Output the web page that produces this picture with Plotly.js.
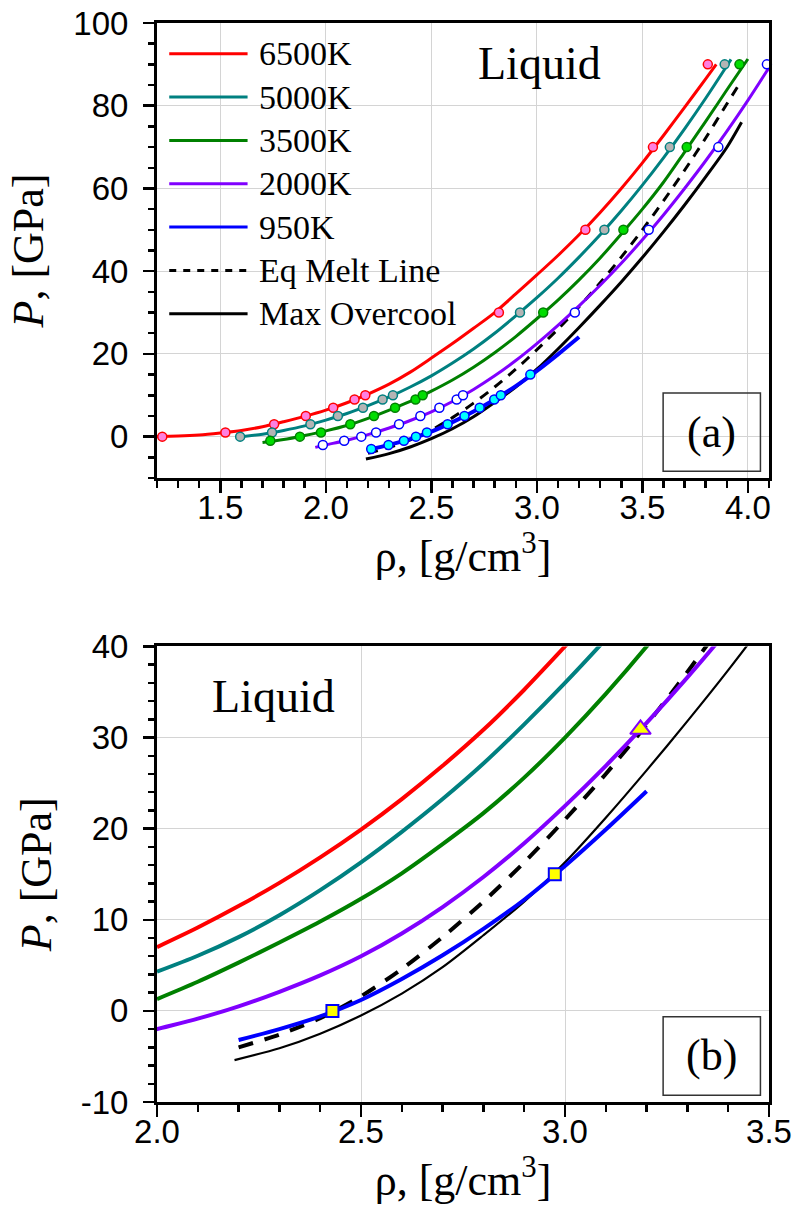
<!DOCTYPE html>
<html>
<head>
<meta charset="utf-8">
<script src="https://cdn.plot.ly/plotly-3.0.1.min.js"></script>
<style>
html,body{margin:0;padding:0;background:#fff;}
#chart{width:796px;height:1217px;}
</style>
</head>
<body>
<div id="chart"></div>
<script>
// ---------------- DATA ----------------
// Panel (a) fitted isotherms
const rhoA6500 = [1.20,1.30,1.40,1.50,1.60,1.70,1.80,1.90,2.00,2.10,2.20,2.30,2.40,2.50,2.60,2.70,2.80,2.90,3.00,3.10,3.20,3.30,3.40,3.50,3.60,3.70,3.80,3.85];
const PA6500   = [0.05,0.15,0.4,0.9,1.5,2.4,3.6,4.9,6.4,8.2,10.3,12.7,15.6,19.0,22.5,26.2,30.0,34.5,39.1,43.8,48.8,54.2,60.0,66.2,72.8,79.6,86.5,90.0];
const rhoA5000 = [1.58,1.60,1.70,1.80,1.90,2.00,2.10,2.20,2.30,2.40,2.50,2.60,2.70,2.80,2.90,3.00,3.10,3.20,3.30,3.40,3.50,3.60,3.70,3.80,3.90,3.92];
const PA5000   = [-0.1,0.0,0.6,1.5,2.6,4.0,5.6,7.5,9.6,12.0,14.7,17.8,21.2,25.0,29.2,33.6,38.3,43.4,48.8,54.6,60.8,67.4,74.4,81.8,89.6,91.2];
const rhoA3500 = [1.70,1.80,1.90,2.00,2.10,2.20,2.30,2.40,2.50,2.60,2.70,2.80,2.90,3.00,3.10,3.20,3.30,3.40,3.50,3.60,3.70,3.80,3.90,4.00];
const PA3500   = [-1.4,-0.7,0.3,1.4,2.7,4.4,6.4,8.5,11.0,13.7,16.8,20.3,24.2,28.5,33.0,37.9,43.2,49.0,55.0,61.5,68.8,76.2,83.8,91.3];
// Panel (b) fitted isotherms (hot curves)
const rhoB6500 = [2.00,2.10,2.20,2.30,2.40,2.50,2.60,2.70,2.80,2.90,3.00,3.05];
const PB6500   = [7.0,9.15,11.5,14.05,16.85,19.9,23.25,26.9,30.85,35.25,40.0,42.4];
const rhoB5000 = [2.00,2.10,2.20,2.30,2.40,2.50,2.60,2.70,2.80,2.90,3.00,3.10,3.15];
const PB5000   = [4.3,6.05,8.1,10.5,13.25,16.3,19.65,23.25,27.15,31.45,36.0,40.8,43.3];
const rhoB3500 = [2.00,2.10,2.20,2.30,2.40,2.50,2.60,2.70,2.80,2.90,3.00,3.10,3.20,3.25];
const PB3500   = [1.3,3.2,5.3,7.5,9.8,12.3,15.1,18.3,21.7,25.6,30.0,34.8,40.0,42.8];
// Shared curves (both panels)
const rho2000 = [1.95,2.00,2.10,2.20,2.30,2.40,2.50,2.60,2.70,2.80,2.90,3.00,3.10,3.20,3.30,3.40,3.50,3.60,3.70,3.80,3.90,4.00,4.10,4.13];
const P2000   = [-2.6,-2.0,-0.85,0.5,2.1,3.9,6.0,8.5,11.4,14.7,18.4,22.5,26.9,31.6,36.6,41.9,47.6,53.6,60.0,66.7,73.8,81.3,89.2,91.6];
const rho950  = [2.20,2.30,2.40,2.50,2.60,2.70,2.80,2.90,3.00,3.10,3.20];
const P950    = [-3.2,-2.0,-0.6,1.2,3.5,6.1,9.0,12.2,15.9,19.9,24.1];
const rhoEq   = [2.20,2.30,2.40,2.50,2.60,2.70,2.80,2.90,3.00,3.10,3.20,3.30,3.40,3.50,3.60,3.70,3.80,3.90,3.96];
const PEq     = [-4.0,-2.6,-0.8,1.6,4.6,8.1,12.0,16.3,21.0,26.0,31.4,37.2,43.4,50.0,57.0,64.4,72.2,80.4,85.3];
const rhoMax  = [2.19,2.30,2.40,2.50,2.60,2.70,2.80,2.90,3.00,3.10,3.20,3.30,3.40,3.50,3.60,3.70,3.80,3.90,3.97];
const PMax    = [-5.4,-4.1,-2.5,-0.5,1.9,4.8,8.3,12.0,16.3,21.2,26.4,31.8,37.4,43.3,49.5,56.0,62.8,69.9,76.0];
// Simulation points, panel (a)
const ptRho6500 = [1.225,1.524,1.755,1.905,2.035,2.136,2.187,2.82,3.23,3.55,3.81];
const ptP6500   = [0,1,3,5,7,9,10,30,50,70,90];
const ptRho5000 = [1.594,1.745,1.927,2.057,2.176,2.269,2.318,2.92,3.32,3.63,3.89];
const ptP5000   = [0,1,3,5,7,9,10,30,50,70,90];
const ptRho3500 = [1.737,1.877,1.977,2.116,2.228,2.328,2.425,2.459,3.03,3.41,3.71,3.96];
const ptP3500   = [-1,0,1,3,5,7,9,10,30,50,70,90];
const ptRho2000 = [1.986,2.087,2.168,2.238,2.347,2.448,2.538,2.62,2.65,3.18,3.53,3.86,4.09];
const ptP2000   = [-2,-1,0,1,3,5,7,9,10,30,50,70,90];
const ptRho950  = [2.215,2.297,2.37,2.427,2.479,2.577,2.657,2.729,2.798,2.829,2.969];
const ptP950    = [-3,-2,-1,0,1,3,5,7,9,10,15];
// Special points, panel (b)
const sqRho  = [2.43, 2.975];
const sqP    = [0, 15];
const triRho = [3.185];
const triP   = [30.9];
// Labels
const legendLabels = ['6500K','5000K','3500K','2000K','950K','Eq Melt Line','Max Overcool'];
const yTicksA = [0,20,40,60,80,100];
const yTicksB = [-10,0,10,20,30,40];

// ---------------- STYLES ----------------
const C = {t6500:'#ff0000', t5000:'#008080', t3500:'#008000', t2000:'#8000ff', t950:'#0000ff', black:'#000000'};
const serif = 'Liberation Serif, Times New Roman, serif';
const sans = 'Liberation Sans, Arial, sans-serif';

function line(x, y, color, width, dash, xa, ya) {
  return {x:x, y:y, type:'scatter', mode:'lines', xaxis:xa, yaxis:ya,
    line:{color:color, width:width, dash:dash||'solid', shape:'spline', smoothing:0.8},
    hoverinfo:'skip', showlegend:false};
}
function pts(x, y, fill, edge, sym, size, lw, xa, ya) {
  return {x:x, y:y, type:'scatter', mode:'markers', xaxis:xa, yaxis:ya, cliponaxis:false,
    marker:{color:fill, size:size, symbol:sym, line:{color:edge, width:lw}},
    hoverinfo:'skip', showlegend:false};
}

const data = [
  // panel (a)
  line(rhoMax, PMax, C.black, 3, 'solid', 'x', 'y'),
  line(rhoEq, PEq, C.black, 3, '10px,8px', 'x', 'y'),
  line(rhoA6500, PA6500, C.t6500, 3, 'solid', 'x', 'y'),
  line(rhoA5000, PA5000, C.t5000, 3, 'solid', 'x', 'y'),
  line(rhoA3500, PA3500, C.t3500, 3, 'solid', 'x', 'y'),
  line(rho2000, P2000, C.t2000, 3, 'solid', 'x', 'y'),
  line(rho950, P950, C.t950, 4, 'solid', 'x', 'y'),
  pts(ptRho6500, ptP6500, '#ff80e0', C.t6500, 'circle', 9, 1.5, 'x', 'y'),
  pts(ptRho5000, ptP5000, '#b4b4b4', C.t5000, 'circle', 9, 1.5, 'x', 'y'),
  pts(ptRho3500, ptP3500, '#00dd00', C.t3500, 'circle', 9, 1.5, 'x', 'y'),
  pts(ptRho2000, ptP2000, '#ffffff', C.t950, 'circle', 9, 1.5, 'x', 'y'),
  pts(ptRho950, ptP950, '#00ffff', C.t950, 'circle', 9, 1.5, 'x', 'y'),
  // panel (b)
  line(rhoMax, PMax, C.black, 2.2, 'solid', 'x2', 'y2'),
  line(rhoEq, PEq, C.black, 4, '15px,12px', 'x2', 'y2'),
  line(rhoB6500, PB6500, C.t6500, 4, 'solid', 'x2', 'y2'),
  line(rhoB5000, PB5000, C.t5000, 4, 'solid', 'x2', 'y2'),
  line(rhoB3500, PB3500, C.t3500, 4, 'solid', 'x2', 'y2'),
  line(rho2000, P2000, C.t2000, 4, 'solid', 'x2', 'y2'),
  line(rho950, P950, C.t950, 4, 'solid', 'x2', 'y2'),
  pts(sqRho, sqP, '#ffff00', C.t950, 'square', 12, 2, 'x2', 'y2'),
  pts(triRho, triP, '#ffff00', C.t2000, 'triangle-up', 18, 2, 'x2', 'y2')
];

function xAxis(range, domain, anchor) {
  return {domain:domain, anchor:anchor, range:range, autorange:false,
    showline:true, linecolor:'#000', linewidth:3, mirror:true,
    ticks:'outside', ticklen:12, tickwidth:2.5, tickcolor:'#000',
    tickmode:'linear', tick0:0, dtick:0.5, tickformat:'.1f',
    ticklabelstandoff:-14,
    minor:{ticks:'outside', ticklen:7, tickwidth:2.5, tickcolor:'#000', tickmode:'linear', tick0:0, dtick:0.1, showgrid:false},
    showgrid:true, gridcolor:'#d4d4d4', gridwidth:1, zeroline:false,
    tickfont:{family:sans, size:33, color:'#000'},
    title:{text:'ρ, [g/cm<sup>3</sup>]', standoff:12, font:{family:serif, size:44, color:'#000'}}};
}
function yAxis(range, domain, anchor, tv, mdt) {
  return {domain:domain, anchor:anchor, range:range, autorange:false,
    showline:true, linecolor:'#000', linewidth:3, mirror:true,
    ticks:'outside', ticklen:11, tickwidth:2.5, tickcolor:'#000',
    tickmode:'array', tickvals:tv, ticktext:tv.map(String),
    ticklabelstandoff:8,
    minor:{ticks:'outside', ticklen:6, tickwidth:2.5, tickcolor:'#000', tickmode:'linear', tick0:0, dtick:mdt, showgrid:false},
    showgrid:true, gridcolor:'#d4d4d4', gridwidth:1, zeroline:false,
    tickfont:{family:sans, size:33, color:'#000'},
    title:{text:'<i>P</i>, [GPa]', standoff:16, font:{family:serif, size:44, color:'#000'}}};
}

// legend drawn as decorations inside panel (a)
const legStyles = [
  {color:C.t6500, dash:'solid'}, {color:C.t5000, dash:'solid'}, {color:C.t3500, dash:'solid'},
  {color:C.t2000, dash:'solid'}, {color:C.t950, dash:'solid'}, {color:C.black, dash:'7px,7px'},
  {color:C.black, dash:'solid'}
];
const shapes = [];
const annotations = [];
legendLabels.forEach(function(lab, i) {
  const yy = 0.9325 - i * 0.09524;
  shapes.push({type:'line', xref:'x domain', yref:'y domain', x0:0.020, x1:0.148, y0:yy, y1:yy,
    line:{color:legStyles[i].color, width:3, dash:legStyles[i].dash}});
  annotations.push({xref:'x domain', yref:'y domain', x:0.1638, y:yy, xanchor:'left', yanchor:'middle',
    text:lab, showarrow:false, font:{family:serif, size:34, color:'#000'}});
});
// panel label boxes
shapes.push({type:'rect', xref:'x domain', yref:'y domain', x0:0.827, x1:0.986, y0:0.015, y1:0.187,
  line:{color:'#333', width:1.5}, fillcolor:'rgba(0,0,0,0)'});
shapes.push({type:'rect', xref:'x2 domain', yref:'y2 domain', x0:0.827, x1:0.986, y0:0.015, y1:0.187,
  line:{color:'#333', width:1.5}, fillcolor:'rgba(0,0,0,0)'});
annotations.push({xref:'x domain', yref:'y domain', x:0.9065, y:0.101, xanchor:'center', yanchor:'middle',
  text:'(a)', showarrow:false, font:{family:serif, size:44, color:'#000'}});
annotations.push({xref:'x2 domain', yref:'y2 domain', x:0.9065, y:0.101, xanchor:'center', yanchor:'middle',
  text:'(b)', showarrow:false, font:{family:serif, size:44, color:'#000'}});
annotations.push({xref:'x domain', yref:'y domain', x:0.625, y:0.911, xanchor:'center', yanchor:'middle',
  text:'Liquid', showarrow:false, font:{family:serif, size:46, color:'#000'}});
annotations.push({xref:'x2 domain', yref:'y2 domain', x:0.190, y:0.891, xanchor:'center', yanchor:'middle',
  text:'Liquid', showarrow:false, font:{family:serif, size:46, color:'#000'}});

const layout = {
  width:796, height:1217,
  margin:{l:157, r:27, t:23, b:115},
  paper_bgcolor:'#ffffff', plot_bgcolor:'#ffffff',
  showlegend:false,
  xaxis: xAxis([1.2, 4.1], [0, 1], 'y'),
  yaxis: yAxis([-10, 100], [0.5783, 1], 'x', yTicksA, 5),
  xaxis2: xAxis([2.0, 3.5], [0, 1], 'y2'),
  yaxis2: yAxis([-10, 40], [0, 0.4222], 'x2', yTicksB, 2),
  shapes: shapes,
  annotations: annotations
};

Plotly.newPlot('chart', data, layout, {staticPlot:true, displayModeBar:false});
</script>
</body>
</html>
